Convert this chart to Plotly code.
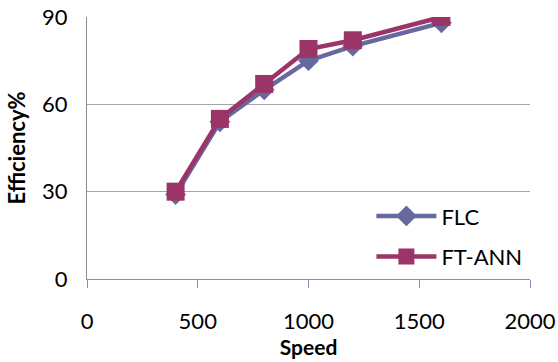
import plotly.graph_objects as go

speed = [400, 600, 800, 1000, 1200, 1600]
flc = [29, 54, 65, 75, 80, 88]
ft_ann = [30, 55, 67, 79, 82, 90]

x_ticks = [0, 500, 1000, 1500, 2000]
y_ticks = [0, 30, 60, 90]

FONT = "Lato, 'Open Sans', sans-serif"

fig = go.Figure()
fig.add_trace(go.Scatter(
    x=speed, y=flc, name="FLC", mode="lines+markers", legendgroup="flc",
    line=dict(color="#67689F", width=4.5),
    marker=dict(symbol="diamond", size=16, color="#67689F"),
))
fig.add_trace(go.Scatter(
    x=speed, y=ft_ann, name="FT-ANN", mode="lines+markers", legendgroup="ftann",
    line=dict(color="#9B3467", width=4.5),
    marker=dict(symbol="square", size=18, color="#9B3467"),
))

fig.update_layout(
    width=558, height=362,
    margin=dict(l=87, r=28, t=17, b=83),
    paper_bgcolor="white", plot_bgcolor="white",
    font=dict(family=FONT, size=22, color="black"),
    showlegend=True,
    legend=dict(
        x=0.642, y=0.32, xanchor="left", yanchor="top",
        bgcolor="rgba(0,0,0,0)", font=dict(size=22),
        itemwidth=60, tracegroupgap=9,
    ),
    xaxis=dict(
        range=[0, 2000], tickvals=x_ticks, automargin=False,
        showgrid=False, zeroline=False,
        showline=True, linecolor="#8A8FB8", linewidth=1,
        ticks="outside", ticklen=8, tickcolor="#8A8FB8",
        ticklabelstandoff=15,
        title=dict(text="<b>Speed</b>", font=dict(size=21), standoff=2),
    ),
    yaxis=dict(
        range=[0, 90], tickvals=y_ticks, automargin=False,
        showgrid=True, gridcolor="#A6A6A6", gridwidth=1,
        zeroline=False,
        showline=True, linecolor="#8C8C8C", linewidth=1,
        ticks="", ticklabelstandoff=14,
        title=dict(text="<b>Efficiency%</b>", font=dict(size=22), standoff=10),
    ),
)

fig.write_html("out.html")
